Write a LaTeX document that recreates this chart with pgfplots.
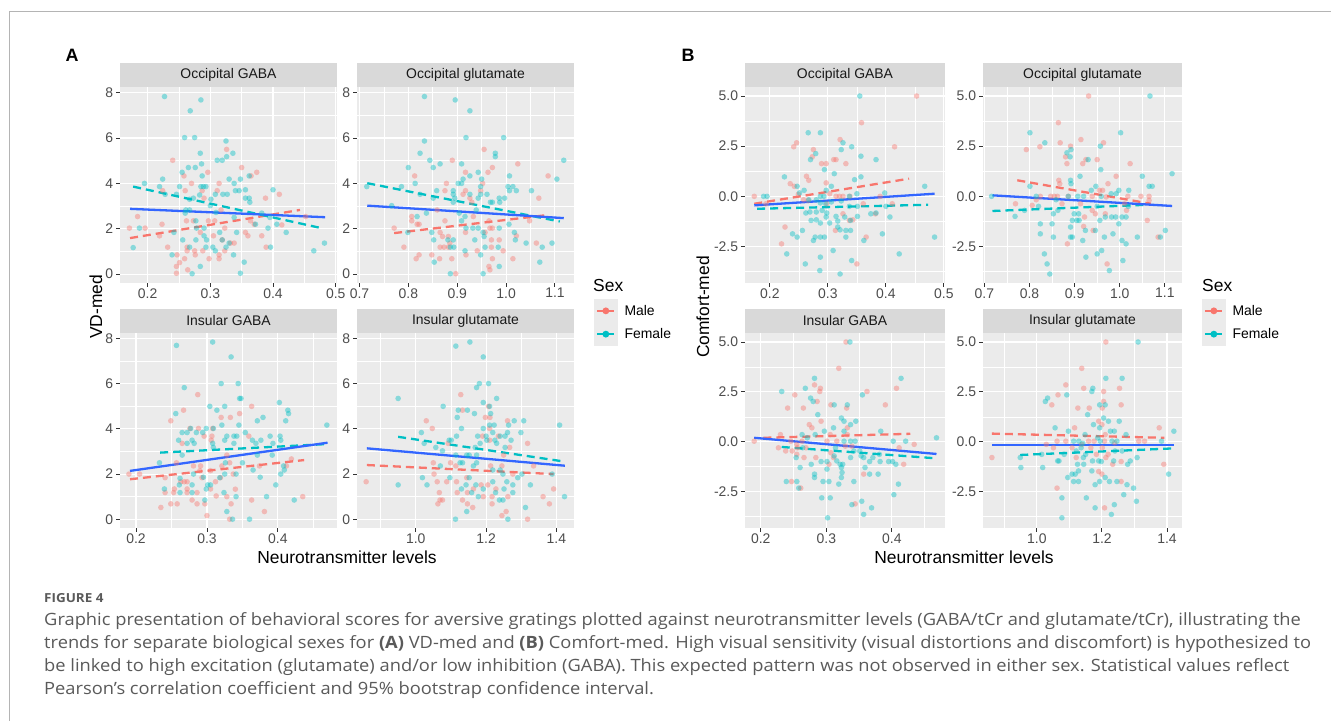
\documentclass[border=0pt]{standalone}
\usepackage{fontspec}
\setmainfont{Liberation Sans}
\newfontfamily\capfont[FakeStretch=1.08]{Open Sans}
\usepackage{pgfplots}
\pgfplotsset{compat=1.18}
\definecolor{panelbg}{HTML}{EBEBEB}
\definecolor{stripbg}{HTML}{D9D9D9}
\definecolor{ticktext}{HTML}{4D4D4D}
\definecolor{tickcol}{HTML}{333333}
\definecolor{maleC}{HTML}{F8766D}
\definecolor{femC}{HTML}{00BFC4}
\definecolor{allC}{HTML}{3366FF}
\definecolor{capgrey}{HTML}{5A5A5A}
\definecolor{framegrey}{HTML}{B4B4B4}
\newcommand\fs[1]{\fontsize{#1}{#1}\selectfont}
\pgfplotsset{
  gg/.style={
    scale only axis, clip=false,
    axis background/.style={fill=panelbg},
    axis line style={draw=none},
    xmajorgrids, ymajorgrids, xminorgrids, yminorgrids,
    major grid style={white, line width=1.1bp},
    minor grid style={white, line width=0.55bp},
    tick style={draw=tickcol, line width=0.9bp},
    major tick length=3.7bp, minor tick length=0bp,
    tick align=outside, tick pos=left,
    ticklabel style={font=\fs{14}, text=ticktext},
    xticklabel style={inner sep=0pt, anchor=north, yshift=-1.5bp},
    yticklabel style={inner sep=0pt, anchor=east, xshift=-3bp},
  },
  ggA/.style={gg, ymin=-0.39, ymax=8.25, ytick={0,2,4,6,8}, minor ytick={1,3,5,7}, yticklabels={0,2,4,6,8}},
  ggB/.style={gg, ymin=-4.32, ymax=5.45, ytick={-2.5,0,2.5,5}, minor ytick={-3.75,-1.25,1.25,3.75}, yticklabels={-2.5,0.0,2.5,5.0}},
  xGABA/.style={xtick={0.2,0.3,0.4,0.5}, xticklabels={0.2,0.3,0.4,0.5}, minor xtick={0.25,0.35,0.45}},
  xGluO/.style={xtick={0.7,0.8,0.9,1.0,1.1}, xticklabels={0.7,0.8,0.9,1.0,1.1}, minor xtick={0.75,0.85,0.95,1.05}},
  xGluI/.style={xtick={1.0,1.2,1.4}, xticklabels={1.0,1.2,1.4}, minor xtick={0.9,1.1,1.3}},
  mpts/.style={only marks, mark=*, mark size=2.8bp, color=maleC, mark options={solid, fill=maleC, draw=maleC, fill opacity=0.42, draw opacity=0}},
  fpts/.style={only marks, mark=*, mark size=2.8bp, color=femC, mark options={solid, fill=femC, draw=femC, fill opacity=0.42, draw opacity=0}},
  mline/.style={no marks, maleC, line width=2.3bp, dash pattern=on 8bp off 5bp},
  fline/.style={no marks, femC, line width=2.3bp, dash pattern=on 8bp off 5bp},
  aline/.style={no marks, allC, line width=2.3bp},
  sexlegend/.style={
    legend style={at={(#1,-0.0816)}, anchor=north west, draw=none, fill=none, inner sep=0pt, row sep=0pt,
      font=\fs{14}, nodes={inner sep=0pt}, /tikz/every odd column/.append style={column sep=7bp}},
    legend cell align=left,
    legend image code/.code={
      \fill[panelbg] (0bp,-10.5bp) rectangle (21bp,10.5bp);
      \draw[mark repeat=2, mark phase=2] plot coordinates {(2bp,0bp) (10.5bp,0bp) (19bp,0bp)};
    },
  },
}
\newcommand\strip[1]{%
  \fill[stripbg] (rel axis cs:0,1) rectangle ([yshift=24bp]rel axis cs:1,1);
  \node[font=\fs{14}, text=black!90] at ([yshift=12bp]rel axis cs:0.5,1) {#1};}
\newcommand\legimgs{%
  \addlegendimage{maleC, line width=2.3bp, mark=*, mark size=2.2bp, mark options={draw=maleC, fill=maleC, solid}}
  \addlegendentry{Male}
  \addlegendimage{femC, line width=2.3bp, mark=*, mark size=2.2bp, mark options={draw=femC, fill=femC, solid}}
  \addlegendentry{Female}}
\begin{document}
\begin{tikzpicture}
\fill[white] (0,0) rectangle (1331bp,-721bp);
\useasboundingbox (0,0) rectangle (1331bp,-721bp);
\draw[framegrey, line width=1bp] (1331bp,-11bp) -- (9bp,-11bp) -- (9bp,-721bp);
\node[font=\fs{18}\bfseries] at (72bp,-55bp) {A};
\node[font=\fs{18}\bfseries] at (688bp,-55bp) {B};

% ---------- A1 Occipital GABA
\begin{axis}[ggA, xGABA, at={(120bp,-283bp)}, anchor=south west, width=217bp, height=196bp, xmin=0.156, xmax=0.502]
\strip{Occipital GABA}
\addplot[mpts] coordinates {(0.24,5.02)(0.326,5.5)(0.258,4.33)(0.296,4.49)(0.35,4.7)(0.365,4.33)(0.374,4.49)(0.314,4.0)(0.27,4.0)(0.224,3.68)(0.26,3.68)(0.287,3.68)(0.311,3.68)(0.41,3.52)(0.29,3.35)(0.388,3.35)(0.184,2.54)(0.317,2.83)(0.297,2.35)(0.307,2.35)(0.262,2.35)(0.273,2.35)(0.223,2.2)(0.171,2.03)(0.196,2.03)(0.323,2.03)(0.364,2.35)(0.37,2.2)(0.414,2.17)(0.356,1.84)(0.36,1.69)(0.382,1.69)(0.219,1.69)(0.284,1.84)(0.305,1.69)(0.319,1.51)(0.232,1.19)(0.263,1.19)(0.332,1.37)(0.338,1.37)(0.323,1.03)(0.288,1.03)(0.263,1.03)(0.275,1.03)(0.389,1.19)(0.298,0.68)(0.314,0.85)(0.314,0.68)(0.276,0.85)(0.259,0.68)(0.247,0.85)(0.246,0.34)(0.251,0.51)(0.264,0.19)(0.246,0.04)(0.452,2.54)};
\addplot[fpts] coordinates {(0.227,7.83)(0.285,7.68)(0.268,7.2)(0.259,6.02)(0.275,6.02)(0.325,5.87)(0.284,5.33)(0.311,5.02)(0.319,5.02)(0.326,5.18)(0.336,5.33)(0.286,4.86)(0.276,4.7)(0.265,4.7)(0.255,4.49)(0.287,4.33)(0.33,4.19)(0.348,4.19)(0.362,4.33)(0.195,4.0)(0.224,4.19)(0.219,3.86)(0.251,3.86)(0.285,3.86)(0.289,3.86)(0.293,3.86)(0.338,4.0)(0.34,3.68)(0.346,3.68)(0.356,3.72)(0.228,3.52)(0.246,3.52)(0.283,3.49)(0.308,3.52)(0.32,3.52)(0.327,3.52)(0.356,3.35)(0.362,3.35)(0.363,3.17)(0.273,3.35)(0.267,3.3)(0.301,3.3)(0.261,2.83)(0.26,2.69)(0.267,2.83)(0.3,3.02)(0.309,2.72)(0.338,2.5)(0.382,2.69)(0.395,2.5)(0.4,3.72)(0.406,2.2)(0.372,2.2)(0.392,2.03)(0.277,2.35)(0.278,2.03)(0.29,2.03)(0.29,1.69)(0.294,1.51)(0.315,1.84)(0.319,1.51)(0.33,1.37)(0.342,1.84)(0.421,1.84)(0.242,1.84)(0.187,2.03)(0.177,1.17)(0.256,1.51)(0.277,1.51)(0.267,1.19)(0.293,1.19)(0.304,1.19)(0.308,1.03)(0.325,1.19)(0.337,0.85)(0.396,1.19)(0.239,0.85)(0.284,0.34)(0.354,0.53)(0.348,0.04)(0.271,0.02)(0.465,1.03)(0.482,1.37)};
\addplot[mline] coordinates {(0.172,1.59)(0.443,2.83)};
\addplot[fline] coordinates {(0.177,3.86)(0.477,2.03)};
\addplot[aline] coordinates {(0.172,2.88)(0.483,2.51)};
\end{axis}

% ---------- A2 Occipital glutamate
\begin{axis}[ggA, xGluO, sexlegend=1.0922, at={(357bp,-283bp)}, anchor=south west, width=217bp, height=196bp, xmin=0.695, xmax=1.139]
\legimgs
\strip{Occipital glutamate}
\addplot[mpts] coordinates {(0.89,5.02)(0.955,5.5)(1.024,4.86)(0.972,4.7)(0.963,4.49)(0.917,4.49)(1.086,4.33)(0.813,4.33)(0.878,4.0)(0.952,4.0)(0.875,3.68)(0.917,3.68)(0.948,3.68)(1.067,3.35)(0.912,3.52)(0.926,3.35)(0.93,3.17)(0.859,2.83)(0.807,2.54)(0.807,2.35)(0.875,2.35)(0.818,2.2)(0.822,2.2)(0.933,2.54)(0.965,2.35)(1.048,2.35)(0.771,2.03)(0.967,2.03)(0.917,1.84)(0.972,2.03)(0.957,1.84)(1.021,1.69)(0.865,1.84)(0.87,1.66)(0.882,1.66)(0.97,1.51)(0.986,1.51)(0.791,1.19)(0.865,1.19)(0.873,1.19)(0.882,1.19)(0.885,1.37)(1.062,1.37)(0.97,1.19)(0.822,0.85)(0.816,0.68)(0.848,0.85)(0.864,0.68)(0.889,0.68)(0.941,1.03)(0.994,1.03)(0.972,0.68)(1.014,0.68)(0.965,0.34)(0.967,0.19)(0.897,0.02)(0.918,0.85)};
\addplot[fpts] coordinates {(0.833,7.83)(0.896,7.68)(0.926,7.2)(0.833,5.87)(0.918,6.02)(0.995,6.02)(0.824,5.33)(0.978,5.33)(0.978,5.18)(0.844,5.02)(1.118,5.02)(0.865,4.86)(0.851,4.7)(0.8,4.7)(0.909,4.86)(0.926,4.33)(1.007,4.33)(1.104,4.19)(0.912,4.19)(0.95,4.19)(0.943,4.49)(0.814,4.0)(0.902,4.0)(0.909,4.0)(0.786,3.86)(0.715,3.86)(0.892,3.68)(0.858,3.68)(1.004,3.86)(1.014,3.86)(1.021,3.68)(1.007,3.68)(1.052,3.68)(0.948,3.86)(0.892,3.52)(0.948,3.52)(0.961,3.52)(0.926,3.52)(0.824,3.52)(0.851,3.35)(0.895,3.35)(0.943,3.35)(0.986,3.35)(0.997,3.35)(0.968,3.17)(0.972,3.17)(0.987,3.17)(0.892,3.17)(0.766,3.02)(0.837,2.69)(0.818,2.54)(0.939,2.83)(0.904,2.69)(0.916,2.54)(0.909,2.35)(1.006,2.2)(1.017,1.84)(0.799,1.84)(0.848,1.84)(0.918,2.03)(0.932,2.03)(0.943,2.03)(0.953,1.84)(0.955,1.66)(0.986,2.03)(1.019,1.51)(1.041,1.37)(1.094,1.37)(1.074,1.19)(0.852,1.51)(0.881,1.51)(0.892,1.51)(0.936,1.51)(0.957,1.19)(0.984,1.19)(0.886,1.19)(0.893,1.19)(0.916,1.03)(0.948,0.85)(1.069,0.53)(0.986,0.34)(0.886,0.02)(0.953,0.02)(0.853,0.53)};
\addplot[mline] coordinates {(0.771,1.81)(1.086,2.61)};
\addplot[fline] coordinates {(0.716,4.01)(1.11,2.32)};
\addplot[aline] coordinates {(0.716,3.02)(1.118,2.47)};
\end{axis}

% ---------- A3 Insular GABA
\begin{axis}[ggA, xGABA, at={(120bp,-528bp)}, anchor=south west, width=217bp, height=195bp, xmin=0.1774, xmax=0.4833]
\strip{Insular GABA}
\addplot[mpts] coordinates {(0.287,5.52)(0.267,4.83)(0.363,5.0)(0.346,4.68)(0.333,4.51)(0.32,4.51)(0.249,4.36)(0.308,4.02)(0.288,4.02)(0.276,4.02)(0.359,3.68)(0.307,3.68)(0.296,3.68)(0.265,3.36)(0.306,3.5)(0.257,2.5)(0.328,2.84)(0.332,2.5)(0.419,2.67)(0.412,2.36)(0.374,2.36)(0.281,2.36)(0.291,2.36)(0.321,2.36)(0.19,2.0)(0.205,2.0)(0.29,2.15)(0.305,2.15)(0.337,2.0)(0.241,1.84)(0.272,1.66)(0.263,1.66)(0.268,1.66)(0.293,1.84)(0.319,1.84)(0.254,1.34)(0.272,1.34)(0.305,1.34)(0.312,1.66)(0.34,1.33)(0.241,1.18)(0.253,1.18)(0.272,1.18)(0.286,1.18)(0.313,1.03)(0.328,1.0)(0.435,1.0)(0.279,0.85)(0.286,0.68)(0.297,0.68)(0.249,0.68)(0.258,0.68)(0.334,0.68)(0.363,0.85)(0.235,0.52)(0.381,0.34)(0.3,0.16)(0.332,0.0)};
\addplot[fpts] coordinates {(0.257,7.7)(0.308,7.85)(0.334,7.19)(0.32,6.01)(0.344,6.01)(0.268,5.83)(0.346,5.35)(0.348,5.35)(0.402,5.17)(0.304,5.0)(0.325,5.0)(0.256,4.68)(0.314,4.83)(0.414,4.83)(0.415,4.68)(0.371,4.36)(0.411,4.36)(0.379,4.51)(0.469,4.17)(0.345,4.17)(0.265,3.84)(0.277,4.02)(0.299,4.02)(0.309,4.02)(0.321,4.17)(0.338,3.68)(0.342,3.68)(0.354,3.84)(0.272,3.84)(0.285,3.84)(0.294,3.84)(0.279,3.5)(0.282,3.36)(0.272,3.36)(0.26,3.5)(0.308,3.36)(0.309,3.18)(0.325,3.5)(0.328,3.68)(0.338,3.36)(0.364,3.5)(0.376,3.5)(0.389,3.68)(0.403,3.68)(0.404,3.5)(0.393,3.36)(0.392,2.84)(0.371,2.84)(0.369,3.36)(0.265,2.84)(0.326,2.5)(0.35,2.5)(0.233,2.5)(0.408,2.36)(0.409,2.18)(0.404,2.0)(0.365,2.18)(0.341,2.0)(0.325,2.0)(0.281,2.0)(0.262,1.81)(0.295,1.86)(0.301,1.52)(0.261,1.52)(0.279,1.52)(0.305,1.52)(0.318,1.84)(0.24,1.34)(0.299,1.34)(0.375,1.86)(0.397,1.52)(0.384,1.0)(0.423,0.85)(0.279,1.18)(0.262,1.18)(0.324,1.18)(0.297,0.85)(0.341,1.0)(0.328,0.34)(0.336,0.0)(0.36,0.0)};
\addplot[mline] coordinates {(0.1915,1.77)(0.437,2.62)};
\addplot[fline] coordinates {(0.234,2.95)(0.47,3.33)};
\addplot[aline] coordinates {(0.1915,2.14)(0.47,3.39)};
\end{axis}

% ---------- A4 Insular glutamate
\begin{axis}[ggA, xGluI, at={(357bp,-528bp)}, anchor=south west, width=217bp, height=195bp, xmin=0.833, xmax=1.45]
\strip{Insular glutamate}
\addplot[mpts] coordinates {(1.128,5.52)(1.133,4.83)(1.207,5.0)(1.198,4.51)(1.211,4.51)(1.03,4.36)(1.261,4.36)(1.047,4.02)(1.21,4.02)(1.19,3.68)(1.267,3.18)(1.318,3.36)(1.235,3.68)(1.21,3.5)(1.092,3.36)(1.25,2.84)(1.335,2.36)(1.05,2.5)(1.099,2.5)(1.114,2.36)(1.213,2.36)(1.245,2.36)(1.052,2.0)(1.276,2.0)(1.061,1.66)(1.088,1.66)(1.116,1.66)(1.145,1.84)(0.859,1.66)(1.186,1.52)(1.205,1.52)(1.228,1.34)(1.392,1.34)(1.164,1.34)(1.067,1.18)(1.118,1.18)(1.147,1.18)(1.192,1.0)(1.217,1.0)(1.262,1.0)(1.362,1.0)(1.069,0.85)(1.076,0.85)(1.133,0.85)(1.063,0.68)(1.147,0.68)(1.217,0.68)(1.38,0.68)(1.162,0.52)(1.257,0.34)(1.245,0.16)(1.318,0.0)};
\addplot[fpts] coordinates {(1.114,7.67)(1.154,7.85)(1.192,7.19)(0.95,5.35)(1.181,6.01)(1.207,6.01)(1.173,5.83)(1.23,5.35)(1.192,5.17)(1.078,5.0)(1.21,5.0)(1.121,4.83)(1.147,4.83)(1.213,4.68)(1.167,4.68)(1.118,4.51)(1.28,4.36)(1.307,4.36)(1.409,4.17)(1.21,4.17)(1.223,4.17)(1.13,4.02)(1.192,4.02)(1.264,4.17)(1.016,3.84)(1.116,3.68)(1.095,3.5)(1.101,3.5)(1.176,3.68)(1.219,3.84)(1.24,3.68)(1.254,3.68)(1.261,3.84)(1.271,3.5)(1.299,3.84)(1.2,3.68)(1.202,3.5)(1.183,3.36)(1.225,3.5)(1.23,3.36)(1.024,3.36)(1.057,3.18)(1.076,3.03)(1.169,3.18)(1.254,3.18)(1.145,2.84)(1.152,2.84)(1.114,2.84)(1.173,2.84)(1.126,2.5)(1.133,2.5)(1.173,2.5)(1.07,2.36)(1.24,2.18)(1.219,2.18)(1.164,2.36)(1.248,2.0)(1.302,2.0)(1.388,2.0)(1.019,1.84)(1.097,1.84)(1.152,1.84)(1.219,1.66)(1.259,1.66)(1.29,1.84)(0.95,1.52)(1.032,1.52)(1.143,1.52)(1.171,1.52)(1.276,1.52)(1.326,1.52)(1.251,1.34)(1.192,1.34)(1.13,1.34)(1.159,1.18)(1.227,1.18)(1.276,1.18)(1.178,1.0)(1.238,0.85)(1.248,0.85)(1.423,1.0)(1.312,0.52)(1.145,0.34)(1.113,0.0)(1.262,0.0)};
\addplot[mline] coordinates {(0.861,2.4)(1.392,2.0)};
\addplot[fline] coordinates {(0.95,3.65)(1.424,2.55)};
\addplot[aline] coordinates {(0.861,3.14)(1.424,2.37)};
\end{axis}

% ---------- B1 Occipital GABA
\begin{axis}[ggB, xGABA, at={(745bp,-283bp)}, anchor=south west, width=200bp, height=196bp, xmin=0.157, xmax=0.502]
\strip{Occipital GABA}
\addplot[mpts] coordinates {(0.453,5.0)(0.358,3.67)(0.321,2.83)(0.246,2.67)(0.241,2.47)(0.275,2.33)(0.273,1.97)(0.289,1.63)(0.297,1.63)(0.31,1.83)(0.314,1.83)(0.331,1.63)(0.415,2.47)(0.263,1.0)(0.267,0.8)(0.297,0.67)(0.235,0.63)(0.242,0.5)(0.249,0.1)(0.173,0.0)(0.303,0.13)(0.314,0.0)(0.32,0.0)(0.326,0.0)(0.338,0.0)(0.39,0.0)(0.258,-0.17)(0.298,-0.37)(0.361,-0.37)(0.411,-0.37)(0.326,-0.87)(0.337,-1.2)(0.343,-1.17)(0.382,-0.87)(0.226,-1.53)(0.266,-0.2)(0.313,-1.7)(0.366,-2.03)(0.35,-3.37)(0.22,-2.37)(0.193,-0.37)};
\addplot[fpts] coordinates {(0.355,5.0)(0.266,3.17)(0.287,3.17)(0.357,2.0)(0.326,2.67)(0.323,2.33)(0.341,2.47)(0.383,1.83)(0.27,1.83)(0.279,2.13)(0.294,1.33)(0.311,1.13)(0.357,0.97)(0.346,0.83)(0.225,0.97)(0.247,0.5)(0.306,0.5)(0.467,0.5)(0.259,0.3)(0.297,0.3)(0.251,0.17)(0.189,0.0)(0.195,0.0)(0.287,0.0)(0.293,0.0)(0.337,0.0)(0.35,0.13)(0.398,0.17)(0.267,-0.17)(0.28,-0.17)(0.287,-0.33)(0.296,-0.37)(0.306,-0.28)(0.323,-0.23)(0.337,-0.5)(0.351,-0.5)(0.4,-0.5)(0.262,-0.83)(0.269,-0.78)(0.28,-0.78)(0.29,-0.7)(0.298,-0.83)(0.271,-1.2)(0.28,-1.17)(0.297,-1.03)(0.314,-1.0)(0.329,-1.03)(0.351,-1.0)(0.374,-0.87)(0.383,-0.83)(0.407,-1.03)(0.287,-1.33)(0.303,-1.33)(0.317,-1.23)(0.339,-1.2)(0.317,-1.53)(0.321,-1.67)(0.331,-1.7)(0.339,-1.7)(0.256,-1.7)(0.239,-1.87)(0.247,-2.03)(0.275,-2.2)(0.278,-2.03)(0.287,-2.03)(0.294,-2.03)(0.331,-2.03)(0.362,-2.2)(0.394,-1.87)(0.484,-2.03)(0.229,-2.87)(0.309,-2.7)(0.287,-3.03)(0.423,-2.87)(0.261,-3.37)(0.341,-3.2)(0.286,-3.7)(0.321,-3.87)};
\addplot[mline] coordinates {(0.173,-0.37)(0.44,0.88)};
\addplot[fline] coordinates {(0.178,-0.62)(0.473,-0.42)};
\addplot[aline] coordinates {(0.173,-0.45)(0.484,0.13)};
\end{axis}

% ---------- B2 Occipital glutamate
\begin{axis}[ggB, xGluO, sexlegend=1.1005, at={(983bp,-283bp)}, anchor=south west, width=199bp, height=196bp, xmin=0.697, xmax=1.138]
\legimgs
\strip{Occipital glutamate}
\addplot[mpts] coordinates {(0.931,5.0)(0.864,3.67)(0.793,2.33)(0.823,2.47)(0.868,2.67)(0.891,2.5)(0.914,2.83)(0.964,2.67)(0.88,1.97)(0.883,1.63)(0.918,1.63)(0.925,1.83)(0.95,1.83)(1.023,1.63)(0.992,1.0)(0.865,0.8)(0.867,0.63)(0.955,0.3)(0.962,0.3)(0.974,0.63)(0.824,0.0)(0.847,0.0)(0.855,0.0)(0.862,0.0)(0.886,0.0)(0.939,0.0)(0.97,-0.03)(1.018,0.0)(1.047,0.0)(1.065,0.0)(1.065,-0.2)(0.815,-0.17)(0.806,-0.45)(0.769,-0.37)(0.872,-0.37)(1.011,-0.37)(1.015,-0.7)(0.913,-0.37)(0.939,-0.7)(0.922,-1.03)(0.946,-0.87)(0.968,-0.87)(1.061,-1.2)(0.92,-1.5)(1.085,-2.03)(0.884,-2.37)(0.972,-3.37)(0.941,-1.7)};
\addplot[fpts] coordinates {(1.067,5.0)(0.801,3.17)(1.002,3.17)(0.834,2.67)(0.957,2.5)(0.892,2.33)(0.883,2.17)(0.89,1.97)(0.93,1.83)(0.958,1.33)(1.116,1.13)(1.05,1.0)(0.912,1.0)(0.891,0.8)(0.892,0.63)(0.801,0.5)(0.947,0.5)(1.065,0.5)(1.072,0.5)(0.937,0.3)(0.998,0.3)(1.02,0.3)(0.981,0.13)(0.716,0.0)(0.815,0.0)(0.886,0.0)(0.907,0.0)(0.92,0.0)(0.959,0.0)(0.992,0.13)(0.859,-0.17)(1.019,-0.5)(0.82,-0.5)(0.95,-0.5)(0.789,-0.7)(0.863,-0.7)(0.768,-1.0)(0.853,-0.87)(0.899,-0.87)(0.909,-0.87)(0.982,-1.03)(0.968,-1.03)(0.991,-1.03)(1.005,-1.03)(1.014,-1.03)(0.895,-1.2)(0.905,-1.2)(0.91,-1.2)(0.956,-1.2)(0.824,-1.37)(0.85,-1.37)(0.998,-1.37)(0.891,-1.53)(0.924,-1.7)(0.946,-1.7)(0.824,-1.87)(0.985,-1.87)(1.101,-1.7)(0.853,-2.03)(0.891,-2.03)(0.895,-2.03)(0.966,-2.03)(1.039,-2.03)(1.09,-2.03)(0.918,-2.2)(1.005,-2.2)(1.014,-2.37)(0.833,-2.87)(0.839,-3.37)(0.845,-3.87)(0.925,-3.03)(0.95,-2.87)(0.96,-2.7)(1.007,-3.2)(0.977,-3.7)};
\addplot[mline] coordinates {(0.773,0.8)(1.069,-0.37)};
\addplot[fline] coordinates {(0.718,-0.73)(1.061,-0.42)};
\addplot[aline] coordinates {(0.718,0.05)(1.116,-0.48)};
\end{axis}

% ---------- B3 Insular GABA
\begin{axis}[ggB, xGABA, at={(745bp,-528bp)}, anchor=south west, width=200bp, height=195bp, xmin=0.176, xmax=0.481]
\strip{Insular GABA}
\addplot[mpts] coordinates {(0.33,5.0)(0.319,3.68)(0.282,2.85)(0.291,2.68)(0.29,2.52)(0.252,2.35)(0.362,2.52)(0.407,2.68)(0.286,2.02)(0.241,1.69)(0.265,1.69)(0.307,1.85)(0.331,1.69)(0.39,1.85)(0.292,1.03)(0.274,0.86)(0.278,0.7)(0.332,0.7)(0.23,0.36)(0.306,0.36)(0.332,0.36)(0.19,0.03)(0.246,0.03)(0.263,0.03)(0.301,0.03)(0.316,0.03)(0.255,-0.13)(0.256,-0.3)(0.269,-0.3)(0.248,-0.46)(0.255,-0.63)(0.266,-0.79)(0.284,-0.79)(0.307,-0.55)(0.329,-0.22)(0.339,-0.22)(0.411,-0.3)(0.434,-0.13)(0.238,-0.46)(0.304,-1.13)(0.311,-0.79)(0.418,-1.13)(0.357,-1.62)(0.247,-1.99)(0.261,-2.32)(0.344,-3.11)(0.227,-0.3)};
\addplot[fpts] coordinates {(0.336,5.0)(0.414,3.18)(0.282,3.18)(0.232,2.52)(0.268,2.68)(0.355,2.35)(0.276,2.19)(0.28,2.02)(0.312,1.85)(0.332,1.85)(0.287,1.36)(0.323,1.19)(0.327,1.03)(0.345,1.03)(0.311,0.7)(0.337,0.86)(0.263,0.36)(0.283,0.36)(0.297,0.53)(0.327,0.53)(0.383,0.53)(0.402,0.03)(0.421,0.03)(0.468,0.2)(0.271,0.2)(0.327,0.03)(0.337,0.03)(0.344,0.03)(0.254,-0.79)(0.342,-0.46)(0.351,-0.46)(0.264,-0.3)(0.314,-0.3)(0.277,-1.13)(0.292,-0.99)(0.301,-0.99)(0.312,-0.71)(0.316,-0.96)(0.321,-1.13)(0.325,-1.13)(0.337,-0.79)(0.353,-0.71)(0.357,-0.79)(0.366,-0.99)(0.371,-0.79)(0.382,-0.99)(0.395,-0.99)(0.401,-0.99)(0.406,-1.13)(0.381,-0.63)(0.301,-1.37)(0.323,-1.29)(0.324,-1.54)(0.323,-1.79)(0.359,-1.29)(0.282,-1.62)(0.282,-1.79)(0.366,-1.62)(0.379,-1.62)(0.26,-1.29)(0.239,-1.99)(0.255,-1.99)(0.258,-2.32)(0.295,-1.99)(0.304,-1.99)(0.342,-1.99)(0.319,-2.12)(0.41,-2.12)(0.403,-2.65)(0.293,-2.81)(0.306,-2.81)(0.354,-2.98)(0.339,-3.15)(0.369,-3.31)(0.357,-3.64)(0.302,-3.81)};
\addplot[mline] coordinates {(0.204,0.2)(0.428,0.4)};
\addplot[fline] coordinates {(0.232,-0.26)(0.468,-0.83)};
\addplot[aline] coordinates {(0.19,0.2)(0.468,-0.61)};
\end{axis}

% ---------- B4 Insular glutamate
\begin{axis}[ggB, xGluI, at={(983bp,-528bp)}, anchor=south west, width=199bp, height=195bp, xmin=0.8346, xmax=1.446]
\strip{Insular glutamate}
\addplot[mpts] coordinates {(1.212,5.0)(1.138,3.68)(1.089,2.85)(1.144,2.68)(1.254,2.68)(1.205,2.52)(1.065,2.35)(1.046,1.85)(1.205,2.02)(1.259,1.85)(1.126,1.69)(1.161,1.69)(1.201,1.69)(1.116,0.7)(1.19,1.03)(1.2,0.86)(1.376,0.7)(1.21,0.36)(0.862,-0.79)(1.029,-0.13)(1.051,-0.3)(1.062,0.03)(1.089,0.03)(1.108,-0.3)(1.121,-0.79)(1.138,-0.13)(1.159,0.03)(1.176,0.03)(1.166,-0.3)(1.183,-0.63)(1.201,-0.3)(1.208,0.03)(1.219,-0.63)(1.212,-0.79)(1.239,-0.05)(1.313,0.03)(1.331,0.03)(1.19,-1.49)(1.2,-1.62)(1.233,-1.13)(1.259,-0.99)(1.259,-1.99)(1.39,-1.13)(1.062,-2.32)(1.208,-3.31)};
\addplot[fpts] coordinates {(1.311,5.0)(1.212,3.18)(1.262,3.18)(1.172,2.68)(1.169,2.52)(1.033,2.19)(1.026,2.02)(1.092,2.35)(1.193,1.85)(1.21,1.85)(1.156,1.36)(1.205,1.19)(1.22,1.03)(1.253,1.03)(1.174,0.86)(1.056,0.7)(1.193,0.7)(1.097,0.53)(1.226,0.53)(1.238,0.53)(1.421,0.53)(1.148,0.36)(1.274,0.36)(1.187,0.2)(1.195,0.03)(1.231,0.03)(1.246,0.03)(1.383,0.03)(1.113,0.03)(1.129,0.03)(1.141,-0.08)(1.136,-0.3)(1.121,-0.46)(1.084,-0.63)(1.15,-0.63)(1.143,-0.79)(1.262,-0.46)(1.24,-0.46)(1.064,-0.96)(1.068,-0.96)(1.19,-0.96)(1.198,-0.99)(1.236,-0.96)(1.287,-0.96)(1.308,-0.79)(0.949,-0.79)(1.015,-0.63)(1.125,-1.13)(1.144,-1.13)(1.171,-0.96)(1.279,-1.13)(1.128,-1.46)(1.169,-1.46)(1.21,-1.79)(1.108,-1.62)(1.118,-1.62)(1.095,-1.79)(1.113,-1.99)(1.128,-1.99)(0.951,-1.29)(1.018,-1.29)(1.193,-1.99)(1.223,-1.99)(1.246,-1.99)(1.179,-2.15)(1.277,-2.15)(1.297,-2.32)(1.152,-2.81)(1.077,-2.81)(1.267,-2.65)(1.306,-2.98)(1.179,-3.31)(1.238,-3.15)(1.229,-3.64)(1.077,-3.81)(1.405,-1.62)};
\addplot[mline] coordinates {(0.862,0.41)(1.392,0.2)};
\addplot[fline] coordinates {(0.949,-0.66)(1.421,-0.33)};
\addplot[aline] coordinates {(0.862,-0.17)(1.421,-0.17)};
\end{axis}

% ---------- titles and legend titles
\node[font=\fs{17.5}, rotate=90] at (96bp,-307bp) {VD-med};
\node[font=\fs{17.5}, rotate=90] at (703bp,-307bp) {Comfort-med};
\node[font=\fs{17.5}] at (347bp,-557bp) {Neurotransmitter levels};
\node[font=\fs{17.5}] at (964bp,-557bp) {Neurotransmitter levels};
\node[font=\fs{17.5}, anchor=west, inner sep=0pt] at (593bp,-285bp) {Sex};
\node[font=\fs{17.5}, anchor=west, inner sep=0pt] at (1202bp,-285bp) {Sex};

% ---------- caption
\begin{scope}[every node/.style={anchor=base west, inner sep=0pt, text=capgrey}]
\node[font=\capfont\fs{12.5}\bfseries] at (44bp,-602bp) {FIGURE 4};
\node[font=\capfont\fs{17}] at (44bp,-625bp) {Graphic presentation of behavioral scores for aversive gratings plotted against neurotransmitter levels (GABA/tCr and glutamate/tCr), illustrating the};
\node[font=\capfont\fs{17}] at (44bp,-648bp) {trends for separate biological sexes for \textbf{(A)} VD-med and \textbf{(B)} Comfort-med. High visual sensitivity (visual distortions and discomfort) is hypothesized to};
\node[font=\capfont\fs{17}] at (44bp,-671bp) {be linked to high excitation (glutamate) and/or low inhibition (GABA). This expected pattern was not observed in either sex. Statistical values reflect};
\node[font=\capfont\fs{17}] at (44bp,-694bp) {Pearson’s correlation coefficient and 95\% bootstrap confidence interval.};
\end{scope}
\end{tikzpicture}
\end{document}
